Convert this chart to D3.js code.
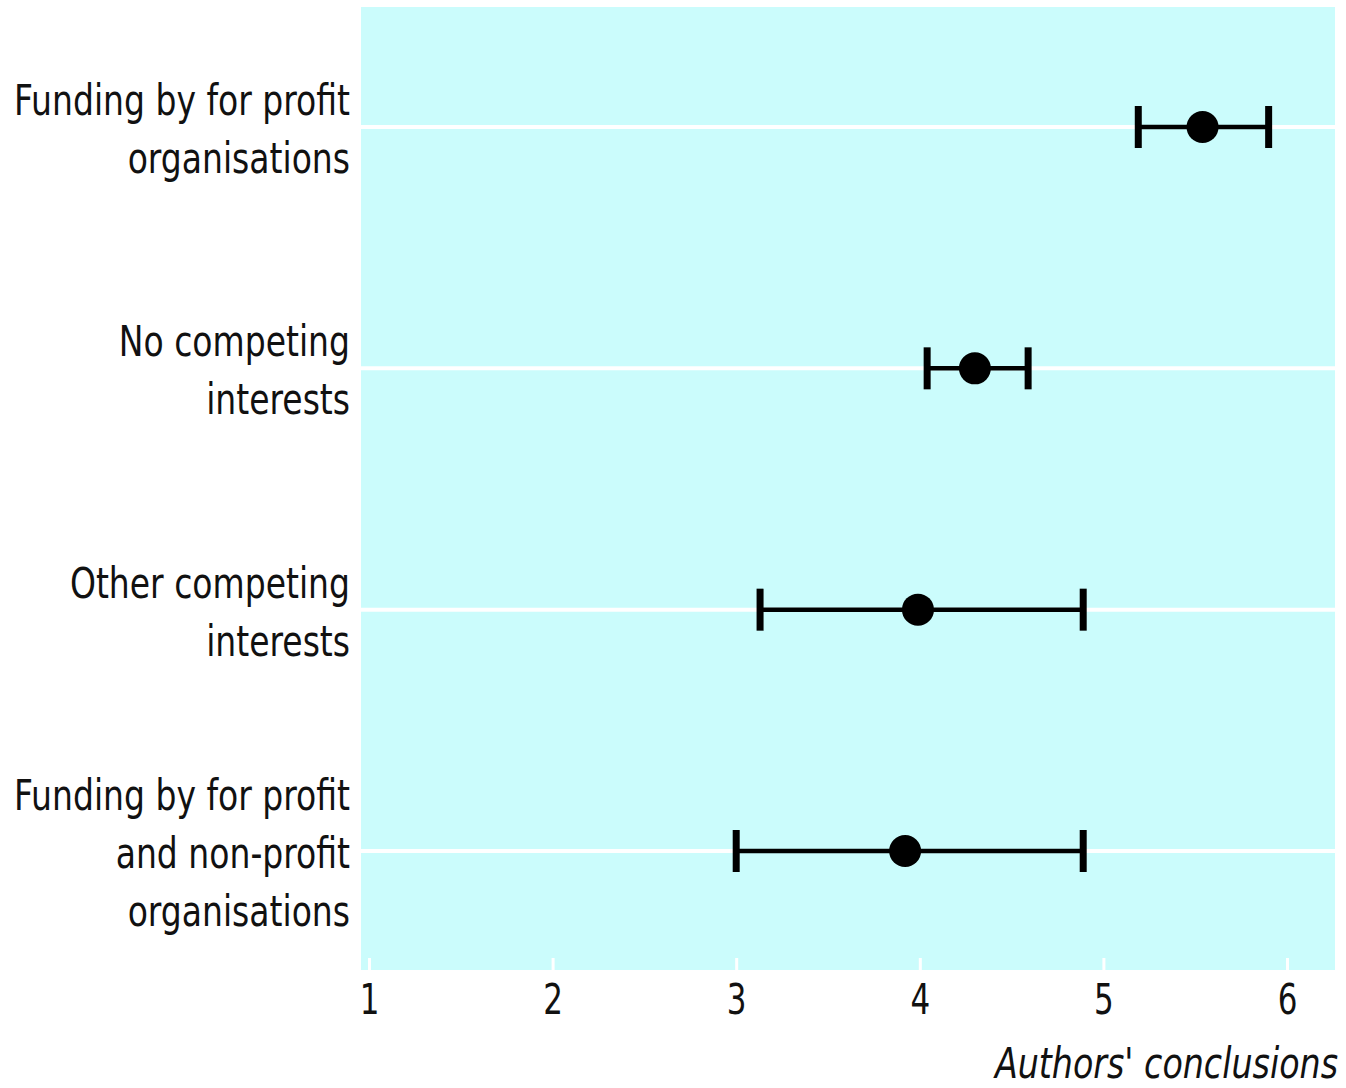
<!DOCTYPE html>
<html>
<head>
<meta charset="utf-8">
<script src="https://cdn.jsdelivr.net/npm/d3@7"></script>
<style>
  body { margin: 0; background: #fff; }
  text { font-family: "Liberation Sans Narrow", "DejaVu Sans Condensed", "Liberation Sans", sans-serif; fill: #111; }
</style>
</head>
<body>
<svg width="1346" height="1088"></svg>
<script>
// groups, top to bottom (each label split in lines)
var groups = [
  ["Funding by for profit", "organisations"],
  ["No competing", "interests"],
  ["Other competing", "interests"],
  ["Funding by for profit", "and non-profit", "organisations"]
];
var means = [5.54, 4.30, 3.99, 3.92];
var lower = [5.19, 4.04, 3.13, 3.00];
var upper = [5.90, 4.59, 4.89, 4.89];
var tickValues = [1, 2, 3, 4, 5, 6];
var axisTitle = "Authors' conclusions";

var svg = d3.select("svg");
var panelL = 361, panelR = 1335, panelT = 7, panelB = 970;

var x = d3.scaleLinear().domain([1, 6]).range([369, 1287]);
var y = d3.scalePoint().domain(d3.range(groups.length)).range([127, 851]);

// horizontal squeeze so the font looks condensed like the original
function squeeze(sel, anchorX, targetW) {
  var w = sel.node().getBBox().width;
  var k = targetW / w;
  sel.attr("transform", "translate(" + anchorX + ",0) scale(" + k + ",1) translate(" + (-anchorX) + ",0)");
  return k;
}

// panel
svg.append("rect")
  .attr("x", panelL).attr("y", panelT)
  .attr("width", panelR - panelL).attr("height", panelB - panelT)
  .attr("fill", "#cbfcfc");

// white row lines
svg.append("g").selectAll("line")
  .data(groups)
  .enter().append("line")
    .attr("x1", panelL).attr("x2", panelR)
    .attr("y1", function(d, i) { return y(i); })
    .attr("y2", function(d, i) { return y(i); })
    .attr("stroke", "#fff")
    .attr("stroke-width", 4);

// axis: white ticks inside panel, labels below
var axis = d3.axisBottom(x).tickValues(tickValues).tickFormat(d3.format("d")).tickSize(0).tickPadding(0);
var gx = svg.append("g").attr("transform", "translate(0," + panelB + ")").call(axis);
gx.select(".domain").remove();
gx.selectAll(".tick text")
  .attr("y", 44)
  .attr("dy", 0)
  .attr("transform", "scale(0.82,1)")
  .style("font-size", "42px")
  .style("fill", "#111");
gx.selectAll(".tick").append("line")
  .attr("y1", -12).attr("y2", 0)
  .attr("stroke", "#fff")
  .attr("stroke-width", 3);

var title = svg.append("text")
  .attr("x", 1338).attr("y", 1078)
  .attr("text-anchor", "end")
  .style("font-size", "42px")
  .style("font-style", "italic")
  .text(axisTitle);
squeeze(title, 1338, 345);

// group labels
var labels = svg.append("g").selectAll("text")
  .data(groups)
  .enter().append("text")
    .attr("text-anchor", "end")
    .style("font-size", "42px");
labels.each(function(d, i) {
  var t = d3.select(this);
  var n = d.length;
  d.forEach(function(line, k) {
    t.append("tspan")
      .attr("x", 350)
      .attr("y", y(i) + 2 + (k - (n - 1) / 2) * 58 + 15)
      .text(line);
  });
});
var k0 = 336 / labels.filter(function(d, i) { return i === 0; }).node().getBBox().width;
labels.attr("transform", "translate(350,0) scale(" + k0 + ",1) translate(-350,0)");

// error bars
var bars = svg.append("g").selectAll("g")
  .data(means)
  .enter().append("g");

bars.append("line")
  .attr("x1", function(d, i) { return x(lower[i]); })
  .attr("x2", function(d, i) { return x(upper[i]); })
  .attr("y1", function(d, i) { return y(i); })
  .attr("y2", function(d, i) { return y(i); })
  .attr("stroke", "#000").attr("stroke-width", 4.5);

[lower, upper].forEach(function(arr) {
  bars.append("line")
    .attr("x1", function(d, i) { return x(arr[i]); })
    .attr("x2", function(d, i) { return x(arr[i]); })
    .attr("y1", function(d, i) { return y(i) - 21; })
    .attr("y2", function(d, i) { return y(i) + 21; })
    .attr("stroke", "#000").attr("stroke-width", 7);
});

bars.append("circle")
  .attr("cx", function(d) { return x(d); })
  .attr("cy", function(d, i) { return y(i); })
  .attr("r", 16)
  .attr("fill", "#000");
</script>
</body>
</html>
